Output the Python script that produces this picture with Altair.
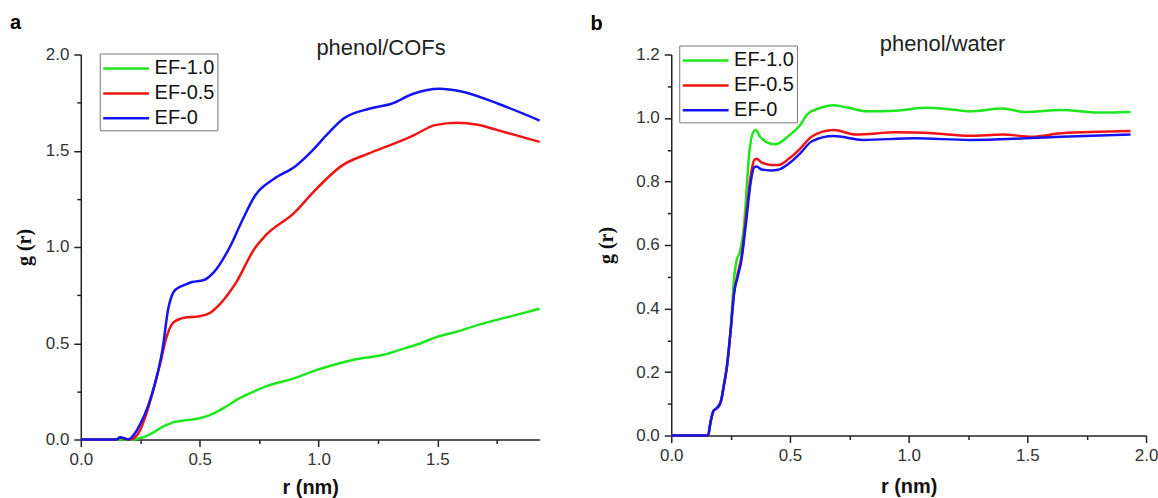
import altair as alt
import pandas as pd

# ---------------- data ----------------
series_names = ["EF-1.0", "EF-0.5", "EF-0"]
series_colors = ["#1EE61E", "#F01414", "#1414F0"]

# panel a : phenol/COFs
a_green_x = [0, 0.2, 0.22, 0.25, 0.282, 0.31, 0.344, 0.37, 0.39, 0.44, 0.5, 0.56, 0.61, 0.667, 0.72, 0.777,
             0.9, 0.993, 1.07, 1.147, 1.273, 1.366, 1.43, 1.498, 1.58, 1.676, 1.80, 1.93]
a_green_y = [0, 0, 0.0, 0.008, 0.022, 0.04, 0.066, 0.08, 0.09, 0.1, 0.11, 0.136, 0.17, 0.214, 0.245, 0.275,
             0.319, 0.362, 0.39, 0.414, 0.44, 0.475, 0.5, 0.533, 0.56, 0.597, 0.637, 0.679]

a_red_x = [0, 0.15, 0.165, 0.18, 0.2, 0.22, 0.25, 0.28, 0.312, 0.335, 0.358, 0.388, 0.435, 0.498, 0.544, 0.59,
           0.653, 0.73, 0.777, 0.9, 0.978, 1.10, 1.21, 1.32, 1.40, 1.49, 1.583, 1.67, 1.753, 1.93]
a_red_y = [0, 0, 0.01, 0.005, 0.0, 0.005, 0.05, 0.15, 0.29, 0.4, 0.52, 0.606, 0.632, 0.64, 0.658, 0.71,
           0.815, 0.99, 1.06, 1.18, 1.285, 1.424, 1.485, 1.538, 1.58, 1.633, 1.646, 1.635, 1.607, 1.546]

a_blue_x = [0, 0.15, 0.165, 0.18, 0.2, 0.22, 0.25, 0.282, 0.313, 0.344, 0.368, 0.39, 0.406, 0.44, 0.468, 0.515,
            0.561, 0.624, 0.68, 0.732, 0.81, 0.903, 0.98, 1.04, 1.104, 1.213, 1.306, 1.399, 1.508, 1.601,
            1.756, 1.93]
a_blue_y = [0, 0, 0.012, 0.008, 0.0, 0.02, 0.08, 0.171, 0.294, 0.469, 0.68, 0.766, 0.785, 0.805, 0.818, 0.827,
            0.871, 0.993, 1.14, 1.265, 1.352, 1.42, 1.509, 1.59, 1.666, 1.718, 1.744, 1.796, 1.822, 1.808,
            1.744, 1.657]

# panel b : phenol/water
b_green_x = [0, 0.155, 0.165, 0.178, 0.195, 0.21, 0.222, 0.235, 0.25, 0.265, 0.275, 0.29, 0.305, 0.33, 0.345,
             0.356, 0.375, 0.4, 0.437, 0.498, 0.54, 0.576, 0.622, 0.684, 0.746, 0.824, 0.947, 1.071, 1.18,
             1.257, 1.396, 1.489, 1.644, 1.799, 1.935]
b_green_y = [0, 0, 0.04, 0.078, 0.088, 0.11, 0.16, 0.22, 0.33, 0.5, 0.55, 0.58, 0.65, 0.9, 0.955,
             0.962, 0.94, 0.925, 0.917, 0.946, 0.975, 1.014, 1.03, 1.04, 1.032, 1.021, 1.023, 1.032, 1.027,
             1.021, 1.03, 1.019, 1.025, 1.017, 1.019]

b_red_x = [0, 0.155, 0.165, 0.178, 0.195, 0.21, 0.222, 0.235, 0.25, 0.265, 0.28, 0.295, 0.315, 0.335, 0.35,
           0.36, 0.38, 0.421, 0.452, 0.498, 0.545, 0.591, 0.684, 0.777, 0.947, 1.102, 1.257, 1.396, 1.52,
           1.644, 1.935]
b_red_y = [0, 0, 0.04, 0.078, 0.088, 0.11, 0.16, 0.22, 0.33, 0.45, 0.51, 0.56, 0.69, 0.82, 0.868,
           0.872, 0.86, 0.852, 0.852, 0.873, 0.905, 0.941, 0.962, 0.948, 0.955, 0.952, 0.944, 0.948, 0.941,
           0.952, 0.959]

b_blue_x = [0, 0.155, 0.165, 0.178, 0.195, 0.21, 0.222, 0.235, 0.25, 0.265, 0.28, 0.295, 0.315, 0.335, 0.35,
            0.36, 0.38, 0.42, 0.45, 0.498, 0.545, 0.591, 0.684, 0.808, 1.025, 1.257, 1.489, 1.644, 1.935]
b_blue_y = [0, 0, 0.04, 0.078, 0.088, 0.11, 0.16, 0.22, 0.33, 0.45, 0.5, 0.55, 0.67, 0.8, 0.845,
            0.847, 0.838, 0.835, 0.837, 0.858, 0.89, 0.926, 0.943, 0.931, 0.936, 0.931, 0.936, 0.941, 0.948]

a_x_ticks = [0, 0.25, 0.5, 0.75, 1.0, 1.25, 1.5, 1.75]
a_y_ticks = [0, 0.25, 0.5, 0.75, 1.0, 1.25, 1.5, 1.75, 2.0]
b_x_ticks = [0, 0.25, 0.5, 0.75, 1.0, 1.25, 1.5, 1.75, 2.0]
b_y_ticks = [0, 0.1, 0.2, 0.3, 0.4, 0.5, 0.6, 0.7, 0.8, 0.9, 1.0, 1.1, 1.2]


def long_df(parts):
    rows = []
    for k, (name, xs, ys) in enumerate(parts):
        for i, (x, y) in enumerate(zip(xs, ys)):
            rows.append({"series": name, "r": x, "g": y, "ord": k, "i": i})
    return pd.DataFrame(rows)


df_a = long_df([("EF-1.0", a_green_x, a_green_y), ("EF-0.5", a_red_x, a_red_y), ("EF-0", a_blue_x, a_blue_y)])
df_b = long_df([("EF-1.0", b_green_x, b_green_y), ("EF-0.5", b_red_x, b_red_y), ("EF-0", b_blue_x, b_blue_y)])

SANS = "Liberation Sans"
SERIF = "Liberation Serif"
INK = "#222222"


def make_axis(values, major_test, title, font, size, weight, title_x=None, title_y=None):
    kw = dict(
        values=values,
        labelExpr=f"({major_test}) ? format(datum.value, '.1f') : ''",
        tickSize={"condition": {"test": major_test, "value": 7}, "value": 4},
        tickColor=INK, tickWidth=1.5, domainColor=INK, domainWidth=1.5,
        labelFont=SANS, labelFontSize=17, labelColor="#333333", labelFlush=False,
        labelOverlap=False, labelPadding=5, grid=False,
        title=title, titleFont=font, titleFontSize=size, titleFontWeight=weight, titleColor="#111111",
        titleAlign="center", titleBaseline="middle",
    )
    if title_x is not None:
        kw["titleX"] = title_x
    if title_y is not None:
        kw["titleY"] = title_y
    return alt.Axis(**kw)


def panel(df, xmax, ymax, xt, yt, xtest, ytest, width, height, leg_x, leg_y,
          title_text, title_pos, letter, letter_pos, ytitle_x, xtitle_y):
    lines = alt.Chart(df).mark_line(strokeWidth=2.5, interpolate="monotone").encode(
        x=alt.X("r:Q", scale=alt.Scale(domain=[0, xmax], nice=False),
                axis=make_axis(xt, xtest, "r (nm)", SANS, 20, "bold", title_y=xtitle_y)),
        y=alt.Y("g:Q", scale=alt.Scale(domain=[0, ymax], nice=False),
                axis=make_axis(yt, ytest, "g (r)", SERIF, 20, "bold", title_x=ytitle_x)),
        color=alt.Color("series:N",
                        scale=alt.Scale(domain=series_names, range=series_colors),
                        legend=alt.Legend(orient="none", legendX=leg_x, legendY=leg_y, title=None,
                                          symbolType="M-1,0H3", symbolSize=529, symbolStrokeWidth=2.5,
                                          labelFont=SANS, labelFontSize=20, labelColor="#111111",
                                          labelOffset=27, rowPadding=2, padding=2,
                                          strokeColor="#777777", fillColor="white")),
        order=alt.Order("i:Q"),
        detail="ord:N",
    )
    ttl = alt.Chart(pd.DataFrame({"t": [title_text]})).mark_text(
        font=SANS, fontSize=22, color=INK, align="center", baseline="middle"
    ).encode(text="t:N", x=alt.value(title_pos[0]), y=alt.value(title_pos[1]))
    let = alt.Chart(pd.DataFrame({"t": [letter]})).mark_text(
        font=SANS, fontSize=20, fontWeight="bold", color="#000000", align="left", baseline="middle"
    ).encode(text="t:N", x=alt.value(letter_pos[0]), y=alt.value(letter_pos[1]))
    return alt.layer(lines, ttl, let).properties(width=width, height=height)


pa = panel(df_a, 1.93, 2.0, a_x_ticks, a_y_ticks,
           "round(datum.value*4) % 2 == 0", "round(datum.value*4) % 2 == 0",
           460, 386, 19, -1, "phenol/COFs", (301, -7), "a", (-71, -32), -56, 48)
pb = panel(df_b, 2.0, 1.2, b_x_ticks, b_y_ticks,
           "round(datum.value*4) % 2 == 0", "round(datum.value*10) % 2 == 0",
           476, 382, 8, -9, "phenol/water", (272, -11), "b", (-81, -31), -65, 51)

chart = alt.hconcat(pa, pb, spacing=46).resolve_scale(color="independent").resolve_legend(
    color="independent"
).properties(
    padding={"left": 10, "top": 12, "right": 0, "bottom": 0},
    background="white",
).configure_view(stroke=None)

chart.save("out.html", embed_options={"renderer": "svg", "actions": False})
